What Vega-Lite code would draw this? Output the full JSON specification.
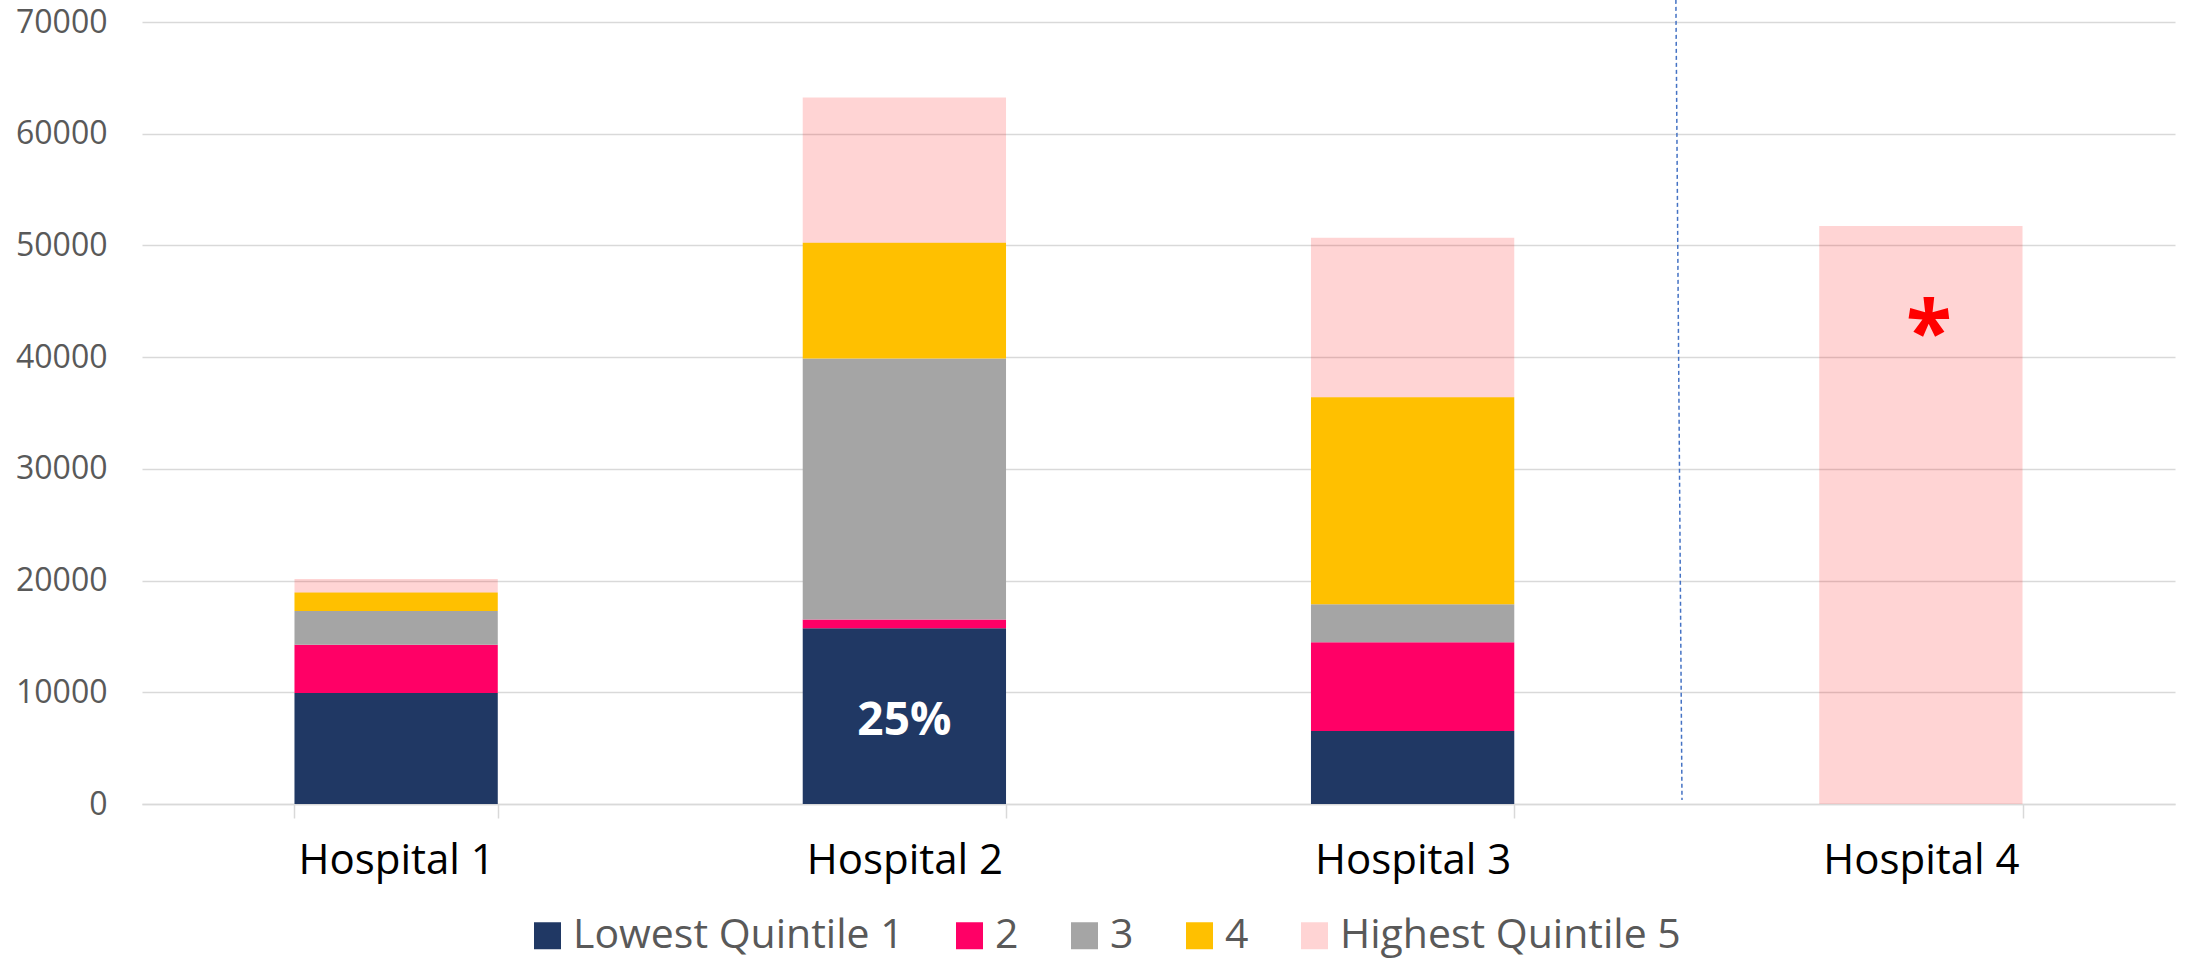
{
  "$schema": "https://vega.github.io/schema/vega-lite/v6.json",
  "autosize": {"type": "none"},
  "width": 2033,
  "height": 782,
  "padding": {"left": 142, "top": 22, "right": 13, "bottom": 157},
  "background": "white",
  "config": {"view": {"stroke": null}, "font": "Open Sans"},
  "data": {
    "values": [
      {"hospital": "Hospital 1", "quintile": "Lowest Quintile 1", "q": 1, "value": 9930, "label": "", "note": ""},
      {"hospital": "Hospital 1", "quintile": "2", "q": 2, "value": 4330, "label": "", "note": ""},
      {"hospital": "Hospital 1", "quintile": "3", "q": 3, "value": 3020, "label": "", "note": ""},
      {"hospital": "Hospital 1", "quintile": "4", "q": 4, "value": 1650, "label": "", "note": ""},
      {"hospital": "Hospital 1", "quintile": "Highest Quintile 5", "q": 5, "value": 1200, "label": "", "note": ""},
      {"hospital": "Hospital 2", "quintile": "Lowest Quintile 1", "q": 1, "value": 15740, "label": "25%", "note": ""},
      {"hospital": "Hospital 2", "quintile": "2", "q": 2, "value": 770, "label": "", "note": ""},
      {"hospital": "Hospital 2", "quintile": "3", "q": 3, "value": 23370, "label": "", "note": ""},
      {"hospital": "Hospital 2", "quintile": "4", "q": 4, "value": 10370, "label": "", "note": ""},
      {"hospital": "Hospital 2", "quintile": "Highest Quintile 5", "q": 5, "value": 13000, "label": "", "note": ""},
      {"hospital": "Hospital 3", "quintile": "Lowest Quintile 1", "q": 1, "value": 6530, "label": "", "note": ""},
      {"hospital": "Hospital 3", "quintile": "2", "q": 2, "value": 7950, "label": "", "note": ""},
      {"hospital": "Hospital 3", "quintile": "3", "q": 3, "value": 3400, "label": "", "note": ""},
      {"hospital": "Hospital 3", "quintile": "4", "q": 4, "value": 18540, "label": "", "note": ""},
      {"hospital": "Hospital 3", "quintile": "Highest Quintile 5", "q": 5, "value": 14270, "label": "", "note": ""},
      {"hospital": "Hospital 4", "quintile": "Highest Quintile 5", "q": 5, "value": 51730, "label": "", "note": "*"}
    ]
  },
  "resolve": {"scale": {"x": "independent"}},
  "layer": [
    {
      "mark": {"type": "bar"},
      "encoding": {
        "x": {
          "field": "hospital",
          "type": "nominal",
          "scale": {"paddingInner": 0.6, "paddingOuter": 0.3},
          "axis": {
            "title": null,
            "labelAngle": 0,
            "labelFont": "Open Sans",
            "labelFontSize": 42,
            "labelColor": "#000000",
            "labelPadding": 22,
            "labelLimit": 500,
            "tickBand": "extent",
            "tickSize": 14,
            "tickColor": "#D9D9D9",
            "tickWidth": 1.5,
            "domainColor": "#D9D9D9",
            "domainWidth": 1.5,
            "grid": false
          }
        },
        "y": {
          "field": "value",
          "type": "quantitative",
          "stack": "zero",
          "scale": {"domain": [0, 70000]},
          "axis": {
            "title": null,
            "values": [0, 10000, 20000, 30000, 40000, 50000, 60000, 70000],
            "format": "d",
            "domain": false,
            "ticks": false,
            "labelFont": "Open Sans",
            "labelFontSize": 32,
            "labelColor": "#595959",
            "labelPadding": 35,
            "gridColor": "#D9D9D9",
            "gridWidth": 1.5
          }
        },
        "color": {
          "field": "quintile",
          "type": "nominal",
          "scale": {
            "domain": ["Lowest Quintile 1", "2", "3", "4", "Highest Quintile 5"],
            "range": ["#203864", "#FF0066", "#A5A5A5", "#FFC000", "#FF00002B"]
          },
          "legend": {
            "orient": "none",
            "legendX": 385,
            "legendY": 893,
            "direction": "horizontal",
            "title": null,
            "padding": 0,
            "symbolType": "square",
            "symbolSize": 729,
            "symbolStrokeWidth": 0,
            "labelFont": "Open Sans",
            "labelFontSize": 41,
            "labelColor": "#595959",
            "labelOffset": 5,
            "labelLimit": 600,
            "columnPadding": 45
          }
        },
        "order": {"field": "q", "type": "quantitative", "sort": "ascending"}
      }
    },
    {
      "mark": {"type": "text", "color": "white", "font": "Open Sans", "fontWeight": "bold", "fontSize": 46, "baseline": "middle", "dy": 5},
      "encoding": {
        "x": {"field": "hospital", "type": "nominal", "scale": {"paddingInner": 0.6, "paddingOuter": 0.3}, "axis": null},
        "y": {"field": "value", "type": "quantitative", "stack": "zero", "bandPosition": 0.5, "scale": {"domain": [0, 70000]}},
        "order": {"field": "q", "type": "quantitative", "sort": "ascending"},
        "text": {"field": "label"}
      }
    },
    {
      "mark": {"type": "text", "color": "#FF0000", "font": "Open Sans", "fontWeight": "bold", "fontSize": 84, "baseline": "alphabetic", "dx": 8, "dy": 135},
      "encoding": {
        "x": {"field": "hospital", "type": "nominal", "scale": {"paddingInner": 0.6, "paddingOuter": 0.3}, "axis": null},
        "y": {"field": "value", "type": "quantitative", "stack": "zero", "scale": {"domain": [0, 70000]}},
        "order": {"field": "q", "type": "quantitative", "sort": "ascending"},
        "text": {"field": "note"}
      }
    },
    {
      "data": {"values": [{"xStart": 3.018, "xEnd": 3.03, "yTop": 71980, "yBottom": 360}]},
      "mark": {"type": "rule", "color": "#4472C4", "strokeWidth": 1.5, "strokeDash": [4, 3]},
      "encoding": {
        "x": {"field": "xStart", "type": "quantitative", "scale": {"domain": [0, 4]}, "axis": null},
        "x2": {"field": "xEnd"},
        "y": {"field": "yTop", "type": "quantitative", "scale": {"domain": [0, 70000]}},
        "y2": {"field": "yBottom"}
      }
    }
  ]
}
